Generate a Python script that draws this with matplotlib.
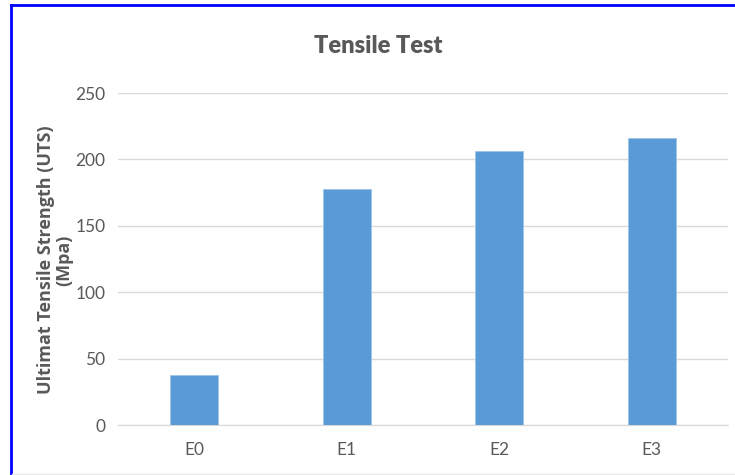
import matplotlib
matplotlib.use("Agg")
import matplotlib.pyplot as plt
from matplotlib.lines import Line2D

categories = ["E0", "E1", "E2", "E3"]
values = [38, 178, 206, 216]
yticks = [0, 50, 100, 150, 200, 250]

fig = plt.figure(figsize=(7.35, 4.75), dpi=100)
ax = fig.add_axes([118/735, 1-425/475, 610/735, 332/475])

x = range(len(categories))
ax.bar(x, values, width=0.312, color="#5B9BD5", zorder=3, edgecolor="#9DC3E6", linewidth=0.6)
ax.set_xlim(-0.5, 3.5)
ax.set_ylim(0, 250)
ax.set_yticks(yticks)
ax.set_xticks(list(x))
ax.set_xticklabels(categories)
ax.grid(axis="y", color="#D9D9D9", linewidth=1, zorder=0)
for s in ["top", "right", "left"]:
    ax.spines[s].set_visible(False)
ax.spines["bottom"].set_color("#D9D9D9")
ax.tick_params(axis="both", length=0, labelsize=12.5, labelcolor="#595959")
ax.tick_params(axis="y", pad=9)
ax.tick_params(axis="x", pad=12)
for lab in ax.get_xticklabels() + ax.get_yticklabels():
    lab.set_fontfamily("Lato")

fig.text(378/735, 1-46/475, "Tensile Test", ha="center", va="center",
         fontsize=17, fontweight="heavy", color="#595959", family="Lato")
fig.text(55/735, 1-260/475, "Ultimat Tensile Strength (UTS)\n(Mpa)", ha="center", va="center",
         rotation=90, fontsize=13, fontweight="bold", color="#595959", family="Open Sans",
         multialignment="center", linespacing=1.05)

# figure border (top & left blue, faint bottom)
fig.add_artist(Line2D([11/735, 1], [1-5/475, 1-5/475], transform=fig.transFigure, color="#0000FF", linewidth=2))
fig.add_artist(Line2D([11/735, 11/735], [0, 1-5/475], transform=fig.transFigure, color="#0000FF", linewidth=2))
fig.add_artist(Line2D([12/735, 1], [1.5/475, 1.5/475], transform=fig.transFigure, color="#E6E6E6", linewidth=1))

fig.savefig("out.png", dpi=100)
